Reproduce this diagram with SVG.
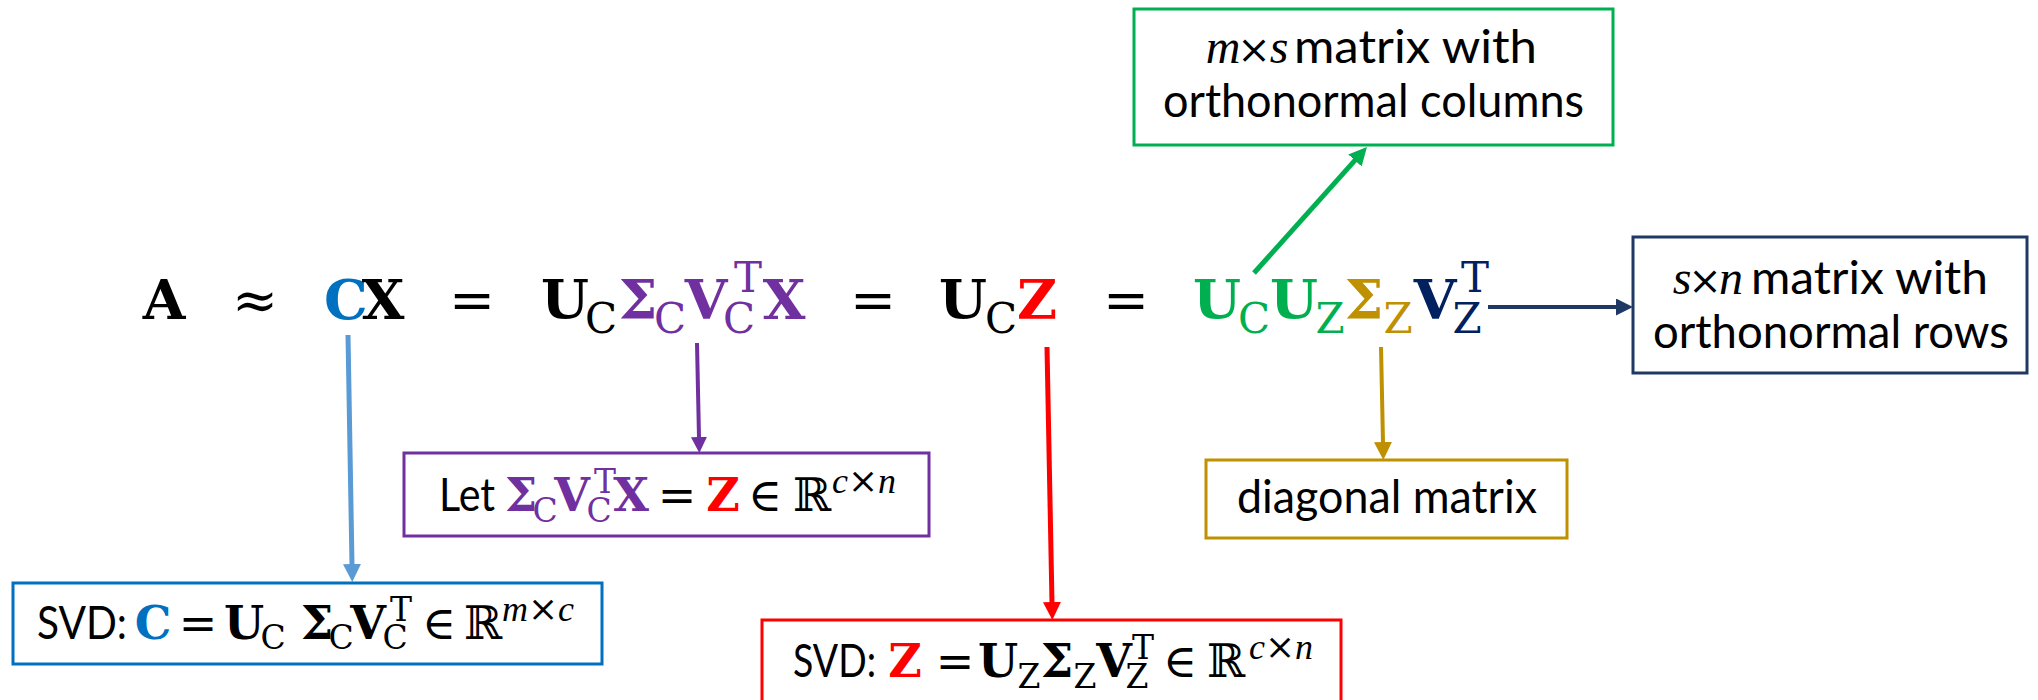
<svg xmlns="http://www.w3.org/2000/svg" width="2038" height="700" viewBox="0 0 2038 700">
<style>
.eq{font-family:"DejaVu Serif","DejaVu Sans",serif;text-anchor:middle;fill:#000}
.mb{font-weight:bold;font-size:55px}
.ms{font-weight:normal;font-size:42px}
.mo{font-weight:normal;font-size:55px}
.bb{font-weight:bold;font-size:46px}
.bs{font-weight:normal;font-size:33px}
.bo{font-weight:normal;font-size:46px}
.it{font-family:"Liberation Serif",serif;font-style:italic;font-weight:normal}
.x{font-family:"DejaVu Serif",serif;font-style:normal}
.t{font-family:Lato,"Liberation Sans",sans-serif;font-size:46px;fill:#000}
.box{fill:#fff;stroke-width:3}
.k{fill:#000}.blue{fill:#0070C0}.pur{fill:#7030A0}.red{fill:#FF0000}.grn{fill:#00B050}.gold{fill:#BF9000}.navy{fill:#002060}
.cn{fill:none}
</style>
<defs>
<marker id="hBlue" markerUnits="userSpaceOnUse" markerWidth="18" markerHeight="18" viewBox="0 0 18 18" refX="1" refY="9" orient="auto"><path d="M0,0L18,9L0,18z" fill="#5B9BD5"/></marker>
<marker id="hPur" markerUnits="userSpaceOnUse" markerWidth="16" markerHeight="16" viewBox="0 0 16 16" refX="1" refY="8" orient="auto"><path d="M0,0L16,8L0,16z" fill="#7030A0"/></marker>
<marker id="hRed" markerUnits="userSpaceOnUse" markerWidth="18" markerHeight="18" viewBox="0 0 18 18" refX="1" refY="9" orient="auto"><path d="M0,0L18,9L0,18z" fill="#FF0000"/></marker>
<marker id="hGold" markerUnits="userSpaceOnUse" markerWidth="18" markerHeight="18" viewBox="0 0 18 18" refX="1" refY="9" orient="auto"><path d="M0,0L18,9L0,18z" fill="#BF9000"/></marker>
<marker id="hGrn" markerUnits="userSpaceOnUse" markerWidth="18" markerHeight="18" viewBox="0 0 18 18" refX="1" refY="9" orient="auto"><path d="M0,0L18,9L0,18z" fill="#00B050"/></marker>
<marker id="hNavy" markerUnits="userSpaceOnUse" markerWidth="17" markerHeight="17" viewBox="0 0 17 17" refX="1" refY="8.5" orient="auto"><path d="M0,0L17,8.5L0,17z" fill="#1F3864"/></marker>
</defs>
<rect width="2038" height="700" fill="#fff"/>

<g id="equation">
<text class="eq"><tspan class="mb k" x="164" y="319">A</tspan><tspan class="mo k" x="255" y="319">≈</tspan><tspan class="mb blue" x="346" y="319">C</tspan><tspan class="mb k" x="383" y="319">X</tspan><tspan class="mo k" x="472" y="319">=</tspan><tspan class="mb k" x="565" y="319">U</tspan><tspan class="ms k" x="601" y="333">C</tspan><tspan class="mb pur" x="638" y="319">Σ</tspan><tspan class="ms pur" x="670" y="333">C</tspan><tspan class="mb pur" x="706" y="319">V</tspan><tspan class="ms pur" x="748" y="292">T</tspan><tspan class="ms pur" x="739" y="333">C</tspan><tspan class="mb pur" x="784" y="319">X</tspan><tspan class="mo k" x="873" y="319">=</tspan><tspan class="mb k" x="963" y="319">U</tspan><tspan class="ms k" x="1001" y="333">C</tspan><tspan class="mb red" x="1037" y="319">Z</tspan><tspan class="mo k" x="1126" y="319">=</tspan><tspan class="mb grn" x="1217" y="319">U</tspan><tspan class="ms grn" x="1254" y="333">C</tspan><tspan class="mb grn" x="1294" y="319">U</tspan><tspan class="ms grn" x="1330" y="333">Z</tspan><tspan class="mb gold" x="1364" y="319">Σ</tspan><tspan class="ms gold" x="1398" y="333">Z</tspan><tspan class="mb navy" x="1435" y="319">V</tspan><tspan class="ms navy" x="1475" y="292">T</tspan><tspan class="ms navy" x="1467" y="333">Z</tspan></text>
</g>

<g id="connectors" class="cn">
<line x1="348" y1="335" x2="352" y2="565" stroke="#5B9BD5" stroke-width="5" marker-end="url(#hBlue)"/>
<line x1="697" y1="343" x2="699" y2="438" stroke="#7030A0" stroke-width="4" marker-end="url(#hPur)"/>
<line x1="1047" y1="347" x2="1052" y2="603" stroke="#FF0000" stroke-width="5" marker-end="url(#hRed)"/>
<line x1="1381" y1="347" x2="1383" y2="443" stroke="#BF9000" stroke-width="4" marker-end="url(#hGold)"/>
<line x1="1254" y1="273" x2="1355.6" y2="159.7" stroke="#00B050" stroke-width="5" marker-end="url(#hGrn)"/>
<line x1="1488" y1="307" x2="1617" y2="307" stroke="#1F3864" stroke-width="4" marker-end="url(#hNavy)"/>
</g>

<g id="node-columns">
<rect class="box" x="1134" y="9" width="479" height="136" stroke="#00B050"/>
<text class="eq"><tspan class="it" x="1223" y="63" font-size="48">m</tspan><tspan class="x" x="1254" y="63" font-size="40">×</tspan><tspan class="it" x="1279" y="63" font-size="48">s</tspan></text>
<text class="t" x="1294" y="63" textLength="243" lengthAdjust="spacingAndGlyphs">matrix with</text>
<text class="t" x="1163" y="117" textLength="421" lengthAdjust="spacingAndGlyphs">orthonormal columns</text>
</g>

<g id="node-rows">
<rect class="box" x="1633" y="237" width="394" height="136" stroke="#1F3864"/>
<text class="eq"><tspan class="it" x="1682" y="294" font-size="48">s</tspan><tspan class="x" x="1705" y="294" font-size="40">×</tspan><tspan class="it" x="1731" y="294" font-size="48">n</tspan></text>
<text class="t" x="1751" y="294" textLength="237" lengthAdjust="spacingAndGlyphs">matrix with</text>
<text class="t" x="1653" y="348" textLength="356" lengthAdjust="spacingAndGlyphs">orthonormal rows</text>
</g>

<g id="node-svd-c">
<rect class="box" x="13" y="583" width="589" height="81" stroke="#0070C0"/>
<text class="t" x="37" y="639" textLength="90" lengthAdjust="spacingAndGlyphs">SVD:</text>
<text class="eq"><tspan class="bb blue" x="153" y="639">C</tspan><tspan class="bo k" x="198" y="639">=</tspan><tspan class="bb k" x="244" y="639">U</tspan><tspan class="bs k" x="273" y="649">C</tspan><tspan class="bb k" x="317" y="639">Σ</tspan><tspan class="bs k" x="341" y="649">C</tspan><tspan class="bb k" x="368" y="639">V</tspan><tspan class="bs k" x="401" y="621">T</tspan><tspan class="bs k" x="395" y="649">C</tspan><tspan class="bo k" x="439" y="639">∈</tspan><tspan class="bo k" x="483" y="639">ℝ</tspan><tspan class="it" x="538" y="621" font-size="36">m<tspan class="x">×</tspan>c</tspan></text>
</g>

<g id="node-let">
<rect class="box" x="404" y="453" width="525" height="83" stroke="#7030A0"/>
<text class="t" x="439" y="511" textLength="56" lengthAdjust="spacingAndGlyphs">Let</text>
<text class="eq"><tspan class="bb pur" x="521" y="511">Σ</tspan><tspan class="bs pur" x="545" y="522">C</tspan><tspan class="bb pur" x="572" y="511">V</tspan><tspan class="bs pur" x="605" y="493">T</tspan><tspan class="bs pur" x="599" y="522">C</tspan><tspan class="bb pur" x="631" y="511">X</tspan><tspan class="bo k" x="677" y="511">=</tspan><tspan class="bb red" x="723" y="511">Z</tspan><tspan class="bo k" x="765" y="511">∈</tspan><tspan class="bo k" x="812" y="511">ℝ</tspan><tspan class="it" x="864" y="493" font-size="36">c<tspan class="x">×</tspan>n</tspan></text>
</g>

<g id="node-svd-z">
<rect class="box" x="762" y="620" width="579" height="110" stroke="#FF0000"/>
<text class="t" x="793" y="677" textLength="83" lengthAdjust="spacingAndGlyphs">SVD:</text>
<text class="eq"><tspan class="bb red" x="905" y="677">Z</tspan><tspan class="bo k" x="955" y="677">=</tspan><tspan class="bb k" x="998" y="677">U</tspan><tspan class="bs k" x="1029" y="688">Z</tspan><tspan class="bb k" x="1057" y="677">Σ</tspan><tspan class="bs k" x="1085" y="688">Z</tspan><tspan class="bb k" x="1114" y="677">V</tspan><tspan class="bs k" x="1143" y="659">T</tspan><tspan class="bs k" x="1137" y="688">Z</tspan><tspan class="bo k" x="1180" y="677">∈</tspan><tspan class="bo k" x="1226" y="677">ℝ</tspan><tspan class="it" x="1281" y="659" font-size="36">c<tspan class="x">×</tspan>n</tspan></text>
</g>

<g id="node-diagonal">
<rect class="box" x="1206" y="460" width="361" height="78" stroke="#BF9000"/>
<text class="t" x="1237" y="513" textLength="300" lengthAdjust="spacingAndGlyphs">diagonal matrix</text>
</g>
</svg>
